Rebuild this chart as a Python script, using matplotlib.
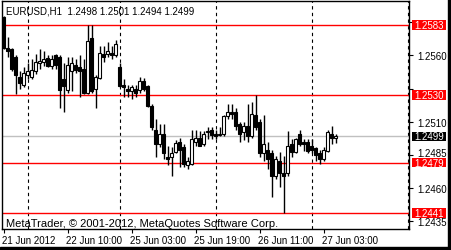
import matplotlib
matplotlib.use("Agg")
import matplotlib.pyplot as plt
from matplotlib.patches import Rectangle
import matplotlib.transforms as mtransforms

opens = [1.2589, 1.2566, 1.2565, 1.2559, 1.2544, 1.2538, 1.2545, 1.2544, 1.2548, 1.2554,
         1.2555, 1.2558, 1.2552, 1.2560, 1.2559, 1.2542, 1.2534, 1.2548, 1.2553, 1.2551,
         1.2550, 1.2532, 1.2573, 1.2535, 1.2543, 1.2561, 1.2561, 1.2562, 1.2560, 1.2551,
         1.2538, 1.2535, 1.2533, 1.2535, 1.2534, 1.2541, 1.2537, 1.2522, 1.2504, 1.2493,
         1.2501, 1.2483, 1.2483, 1.2487, 1.2495, 1.2491, 1.2477, 1.2478, 1.2495, 1.2498,
         1.2493, 1.2502, 1.2504, 1.2501, 1.2500, 1.2501, 1.2514, 1.2517, 1.2517, 1.2508,
         1.2502, 1.2507, 1.2499, 1.2515, 1.2510, 1.2486, 1.2489, 1.2486, 1.2469, 1.2480,
         1.2471, 1.2471, 1.2493, 1.2487, 1.2501, 1.2495, 1.2495, 1.2492, 1.2490, 1.2486,
         1.2482, 1.2488, 1.2501, 1.2498]
highs = [1.2590, 1.2574, 1.2566, 1.2560, 1.2548, 1.2551, 1.2554, 1.2557, 1.2561, 1.2565,
         1.2563, 1.2560, 1.2560, 1.2561, 1.2560, 1.2554, 1.2559, 1.2559, 1.2557, 1.2560,
         1.2557, 1.2583, 1.2583, 1.2545, 1.2567, 1.2567, 1.2570, 1.2567, 1.2572, 1.2554,
         1.2542, 1.2538, 1.2538, 1.2538, 1.2544, 1.2543, 1.2538, 1.2523, 1.2512, 1.2508,
         1.2508, 1.2492, 1.2491, 1.2496, 1.2498, 1.2493, 1.2483, 1.2504, 1.2504, 1.2503,
         1.2503, 1.2506, 1.2506, 1.2504, 1.2506, 1.2515, 1.2523, 1.2523, 1.2520, 1.2510,
         1.2510, 1.2523, 1.2525, 1.2530, 1.2512, 1.2515, 1.2495, 1.2489, 1.2484, 1.2487,
         1.2484, 1.2503, 1.2497, 1.2498, 1.2504, 1.2497, 1.2497, 1.2497, 1.2491, 1.2489,
         1.2491, 1.2504, 1.2507, 1.2501]
lows = [1.2565, 1.2559, 1.2548, 1.2531, 1.2535, 1.2536, 1.2542, 1.2542, 1.2546, 1.2550,
        1.2552, 1.2551, 1.2550, 1.2550, 1.2520, 1.2517, 1.2532, 1.2533, 1.2547, 1.2529,
        1.2531, 1.2531, 1.2532, 1.2520, 1.2542, 1.2555, 1.2559, 1.2557, 1.2559, 1.2536,
        1.2529, 1.2529, 1.2527, 1.2529, 1.2532, 1.2533, 1.2521, 1.2504, 1.2483, 1.2491,
        1.2482, 1.2477, 1.2469, 1.2486, 1.2476, 1.2476, 1.2474, 1.2477, 1.2492, 1.2492,
        1.2492, 1.2497, 1.2497, 1.2497, 1.2499, 1.2499, 1.2512, 1.2512, 1.2504, 1.2495,
        1.2496, 1.2495, 1.2498, 1.2504, 1.2483, 1.2480, 1.2474, 1.2453, 1.2467, 1.2461,
        1.2441, 1.2469, 1.2483, 1.2486, 1.2492, 1.2488, 1.2486, 1.2486, 1.2480, 1.2478,
        1.2480, 1.2487, 1.2493, 1.2494]
closes = [1.2566, 1.2563, 1.2550, 1.2545, 1.2539, 1.2547, 1.2548, 1.2549, 1.2555, 1.2556,
          1.2557, 1.2552, 1.2557, 1.2553, 1.2534, 1.2537, 1.2553, 1.2554, 1.2549, 1.2548,
          1.2532, 1.2571, 1.2533, 1.2544, 1.2562, 1.2559, 1.2563, 1.2560, 1.2569, 1.2537,
          1.2536, 1.2533, 1.2536, 1.2532, 1.2541, 1.2535, 1.2522, 1.2506, 1.2493, 1.2501,
          1.2486, 1.2482, 1.2486, 1.2494, 1.2489, 1.2478, 1.2480, 1.2497, 1.2498, 1.2492,
          1.2501, 1.2503, 1.2500, 1.2499, 1.2501, 1.2514, 1.2517, 1.2516, 1.2507, 1.2501,
          1.2507, 1.2499, 1.2516, 1.2506, 1.2486, 1.2493, 1.2482, 1.2469, 1.2482, 1.2471,
          1.2469, 1.2492, 1.2487, 1.2497, 1.2493, 1.2493, 1.2488, 1.2489, 1.2485, 1.2482,
          1.2489, 1.2502, 1.2498, 1.2499]

tick_bars = [0, 16, 32, 48, 64, 80]
tick_labels = ["21 Jun 2012", "22 Jun 10:00", "25 Jun 03:00", "25 Jun 19:00",
               "26 Jun 11:00", "27 Jun 03:00"]
grid_bars = [6, 29, 53, 77, 101]
price_ticks = [1.2435, 1.2460, 1.2485, 1.2510, 1.2535, 1.2560, 1.2585]
hidden_ticks = [1.2535, 1.2585]   # covered by the red level labels
red_levels = [1.2583, 1.2530, 1.2479, 1.2441]
bid_price = 1.2499
header = "EURUSD,H1  1.2498 1.2501 1.2494 1.2499"
footer = "MetaTrader, \u00a9 2001-2012, MetaQuotes Software Corp."

FONT = "Liberation Sans"
W, H = 451, 251
fig = plt.figure(figsize=(W / 100, H / 100), dpi=100)
fig.patch.set_facecolor("white")
AX_L, AX_R, AX_T, AX_B = 2, 409, 2, 230
ax = fig.add_axes([AX_L / W, (H - AX_B) / H, (AX_R - AX_L) / W, (AX_B - AX_T) / H])
ax.set_facecolor("white")

n = len(opens)
xs = list(range(n))
ax.set_xlim(-0.375, 101.375)
y0, y1 = 1.242898, 1.260112
ax.set_ylim(y0, y1)
px_per_price = (AX_B - AX_T) / (y1 - y0)

# grid (dashed vertical)
for g in grid_bars:
    ax.axvline(g, color="black", lw=0.8, ls=(0, (3, 3)), zorder=1)

# horizontal levels
ax.axhline(bid_price, color="#c0c0c0", lw=1, zorder=1.5)
for lv in red_levels:
    ax.axhline(lv, color="#ff0000", lw=1, zorder=1.6)

# candles
ax.vlines(xs, lows, highs, color="black", lw=1, zorder=2)
bottoms = [min(o, c) for o, c in zip(opens, closes)]
heights = [max(abs(c - o), 0.00002) for o, c in zip(opens, closes)]
colors = ["white" if c >= o else "black" for o, c in zip(opens, closes)]
ax.bar(xs, heights, bottom=bottoms, width=0.62, color=colors, edgecolor="black",
       linewidth=0.8, zorder=3)

# axes styling
for s in ax.spines.values():
    s.set_color("black")
    s.set_linewidth(1)
ax.yaxis.tick_right()
ax.set_yticks(price_ticks)
ax.set_yticklabels(["" if p in hidden_ticks else f"{p:.4f}" for p in price_ticks],
                   fontsize=7, family=FONT)
ax.tick_params(axis="y", length=3, width=0.8, pad=3, colors="black")
up = mtransforms.ScaledTranslation(0, 2.5 / 100, fig.dpi_scale_trans)
for p, lbl in zip(price_ticks, ax.get_yticklabels()):
    if p == 1.2485:
        lbl.set_transform(lbl.get_transform() + up)
ax.set_xticks(tick_bars)
ax.set_xticklabels(tick_labels, fontsize=7, family=FONT, ha="left")
ax.tick_params(axis="x", length=3, width=0.8, pad=1, colors="black")
offset = mtransforms.ScaledTranslation(-1 / 100, 0, fig.dpi_scale_trans)
for lbl in ax.get_xticklabels():
    lbl.set_transform(lbl.get_transform() + offset)

# right-side price labels (boxes)
trans = mtransforms.blended_transform_factory(ax.transAxes, ax.transData)
box_x = (412 - AX_L) / (AX_R - AX_L) - 0.0
box_w = 34 / (AX_R - AX_L)
box_h = 9.5 / px_per_price


def level_label(value, fc):
    ax.add_patch(Rectangle((box_x - 3.0 / (AX_R - AX_L) + 3.0 / (AX_R - AX_L) - 1.0, value - box_h / 2),
                           0, 0, transform=trans, visible=False))
    r = Rectangle((box_x - 1.0 + 1.0, value - box_h / 2), box_w, box_h, transform=trans,
                  facecolor=fc, edgecolor="none", clip_on=False, zorder=9)
    ax.add_patch(r)
    ax.text(box_x + box_w / 2, value, f"{value:.4f}", transform=trans, ha="center",
            va="center", fontsize=7, family=FONT, color="white", clip_on=False, zorder=10)


for lv in red_levels:
    level_label(lv, "#ff0000")
level_label(bid_price, "black")

# header / footer
ax.text(4 / 407, 1 - 9 / 228, header, transform=ax.transAxes, ha="left", va="center",
        fontsize=7, family=FONT, color="black", zorder=10)
ax.text(4 / 407, 1 / 228, footer, transform=ax.transAxes, ha="left", va="bottom",
        fontsize=8, family=FONT, color="black", zorder=10)

# window frame bars
fig.patches.append(Rectangle((0, 0), 1, 3.5 / H, transform=fig.transFigure,
                             color="black", zorder=20))
fig.patches.append(Rectangle((1 - 3.5 / W, 0), 3.5 / W, 1, transform=fig.transFigure,
                             color="black", zorder=20))

fig.savefig("out.png", dpi=100, facecolor="white")
